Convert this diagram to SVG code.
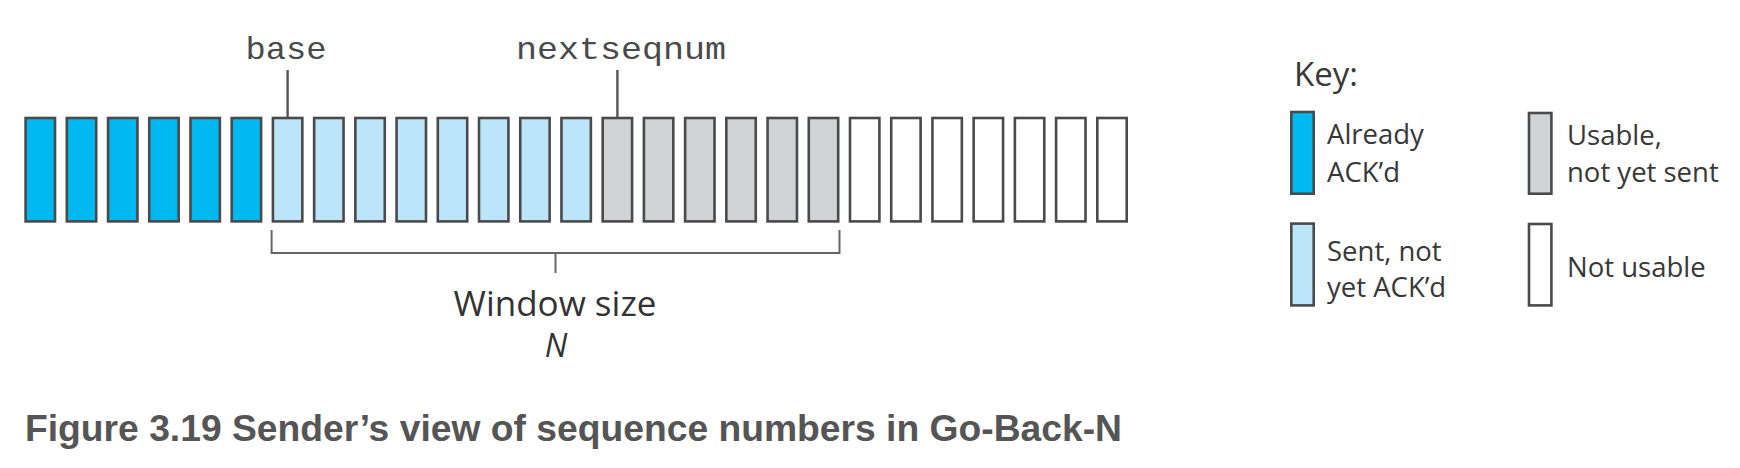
<svg xmlns="http://www.w3.org/2000/svg" width="1740" height="468" viewBox="0 0 1740 468">
<style>
.box{stroke:#4a4a4a;stroke-width:2.6}
.ack{fill:#00b9f1}
.sent{fill:#bce5f9}
.usable{fill:#d1d3d4}
.unusable{fill:#ffffff}
.ptr{fill:#4a4a4a;font-family:"Liberation Mono","Courier New",monospace;font-size:32px;text-anchor:middle}
.lbl{fill:#383838;font-family:"Open Sans","Noto Sans",sans-serif;font-size:27.5px}
.key{font-size:33px}
.line{stroke:#555;stroke-width:2.4;fill:none}
.brk{stroke:#666;stroke-width:2;fill:none}
.cap{fill:#555;font-family:"Liberation Sans",Arial,sans-serif;font-weight:bold;font-size:37px}
</style>
<rect width="1740" height="468" fill="#ffffff"/>
<g id="sequence">
<g id="acked">
<rect class="box ack" x="25.6" y="118" width="29.4" height="103.4"/>
<rect class="box ack" x="66.82" y="118" width="29.4" height="103.4"/>
<rect class="box ack" x="108.04" y="118" width="29.4" height="103.4"/>
<rect class="box ack" x="149.26" y="118" width="29.4" height="103.4"/>
<rect class="box ack" x="190.48" y="118" width="29.4" height="103.4"/>
<rect class="box ack" x="231.7" y="118" width="29.4" height="103.4"/>
</g>
<g id="sent">
<rect class="box sent" x="272.92" y="118" width="29.4" height="103.4"/>
<rect class="box sent" x="314.14" y="118" width="29.4" height="103.4"/>
<rect class="box sent" x="355.36" y="118" width="29.4" height="103.4"/>
<rect class="box sent" x="396.58" y="118" width="29.4" height="103.4"/>
<rect class="box sent" x="437.8" y="118" width="29.4" height="103.4"/>
<rect class="box sent" x="479.02" y="118" width="29.4" height="103.4"/>
<rect class="box sent" x="520.24" y="118" width="29.4" height="103.4"/>
<rect class="box sent" x="561.46" y="118" width="29.4" height="103.4"/>
</g>
<g id="usable">
<rect class="box usable" x="602.68" y="118" width="29.4" height="103.4"/>
<rect class="box usable" x="643.9" y="118" width="29.4" height="103.4"/>
<rect class="box usable" x="685.12" y="118" width="29.4" height="103.4"/>
<rect class="box usable" x="726.34" y="118" width="29.4" height="103.4"/>
<rect class="box usable" x="767.56" y="118" width="29.4" height="103.4"/>
<rect class="box usable" x="808.78" y="118" width="29.4" height="103.4"/>
</g>
<g id="notusable">
<rect class="box unusable" x="850" y="118" width="29.4" height="103.4"/>
<rect class="box unusable" x="891.22" y="118" width="29.4" height="103.4"/>
<rect class="box unusable" x="932.44" y="118" width="29.4" height="103.4"/>
<rect class="box unusable" x="973.66" y="118" width="29.4" height="103.4"/>
<rect class="box unusable" x="1014.88" y="118" width="29.4" height="103.4"/>
<rect class="box unusable" x="1056.1" y="118" width="29.4" height="103.4"/>
<rect class="box unusable" x="1097.32" y="118" width="29.4" height="103.4"/>
</g>
</g>
<g id="base-label"><text class="ptr" x="286" y="59" textLength="81" lengthAdjust="spacingAndGlyphs">base</text></g>
<g id="nextseqnum-label"><text class="ptr" x="621" y="59" textLength="210" lengthAdjust="spacingAndGlyphs">nextseqnum</text></g>
<g id="window-label">
<text x="555" y="315.5" fill="#333" font-family="Open Sans, Noto Sans, sans-serif" font-size="35" text-anchor="middle">Window size</text>
<text x="556" y="356.5" fill="#333" font-family="Open Sans, Noto Sans, sans-serif" font-size="32" font-style="italic" text-anchor="middle">N</text>
</g>
<g id="connectors">
<line class="line" x1="287.6" y1="70" x2="287.6" y2="117"/>
<line class="line" x1="617.4" y1="70" x2="617.4" y2="117"/>
<path class="brk" d="M271.6 230 V253 H839.5 V230"/>
<line class="brk" x1="555.5" y1="253" x2="555.5" y2="273"/>
</g>
<g id="key">
<text class="lbl key" x="1294" y="86">Key:</text>
<g id="key-acked">
<rect class="box ack" x="1291.3" y="112" width="22.4" height="81.7"/>
<text class="lbl" x="1327" y="144.3">Already</text>
<text class="lbl" x="1327" y="181.7">ACK’d</text>
</g>
<g id="key-sent">
<rect class="box sent" x="1291.3" y="223.6" width="22.4" height="81.8"/>
<text class="lbl" x="1327" y="260.7">Sent, not</text>
<text class="lbl" x="1327" y="296.7">yet ACK’d</text>
</g>
<g id="key-usable">
<rect class="box usable" x="1529" y="113" width="22.4" height="80.7"/>
<text class="lbl" x="1567" y="145">Usable,</text>
<text class="lbl" x="1567" y="181.7">not yet sent</text>
</g>
<g id="key-notusable">
<rect class="box unusable" x="1529" y="224" width="22.4" height="81.4"/>
<text class="lbl" x="1567" y="276.7">Not usable</text>
</g>
</g>
<g id="caption"><text class="cap" x="25" y="441" textLength="1097" lengthAdjust="spacingAndGlyphs">Figure 3.19 Sender’s view of sequence numbers in Go-Back-N</text></g>
</svg>
